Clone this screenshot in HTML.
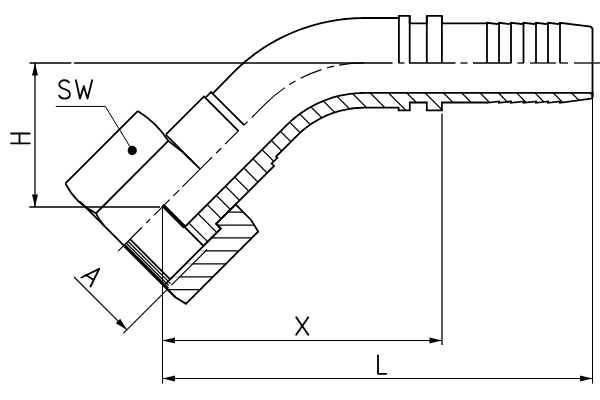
<!DOCTYPE html>
<html><head><meta charset="utf-8"><title>45 degree hose fitting</title>
<style>html,body{margin:0;padding:0;background:#fff;width:600px;height:400px;overflow:hidden;font-family:"Liberation Sans",sans-serif}svg{display:block}</style>
</head><body>
<svg width="600" height="400" viewBox="0 0 600 400">
<rect width="600" height="400" fill="#fff"/>
<defs>
<clipPath id="cA"><path d="M184.70,227.12 L203.50,245.93 L220.83,228.61 L216.09,223.87 L274.07,165.89 L271.67,163.48 L277.33,157.83 L276.09,156.59 L297.12,135.57 L298.90,133.83 L300.73,132.14 L302.61,130.50 L304.52,128.90 L306.48,127.36 L308.47,125.87 L310.51,124.43 L312.58,123.05 L314.68,121.72 L316.82,120.45 L319.00,119.23 L321.20,118.07 L323.44,116.97 L325.70,115.93 L327.99,114.94 L330.30,114.02 L332.64,113.16 L335.00,112.36 L337.38,111.62 L339.77,110.94 L342.19,110.33 L344.62,109.78 L347.06,109.29 L349.52,108.87 L351.98,108.51 L354.45,108.22 L356.93,107.99 L359.42,107.83 L361.91,107.73 L364.40,107.70 L398.60,107.70 L398.60,110.30 L409.80,110.30 L409.80,102.50 L426.80,102.50 L426.80,110.30 L441.90,110.30 L441.90,102.50 L487.00,102.50 L487.00,102.80 L499.00,101.40 L499.00,102.80 L511.00,101.40 L511.00,102.80 L523.50,101.40 L523.50,102.80 L536.00,101.40 L536.00,102.80 L548.00,101.40 L548.00,102.80 L560.00,101.40 L560.00,102.80 L591.00,98.60 L592.50,97.20 L592.50,92.95 L364.40,92.95 L361.52,92.99 L358.65,93.10 L355.78,93.29 L352.91,93.55 L350.06,93.89 L347.21,94.30 L344.37,94.79 L341.55,95.35 L338.74,95.99 L335.96,96.69 L333.19,97.48 L330.44,98.33 L327.71,99.25 L325.02,100.25 L322.34,101.32 L319.70,102.45 L317.09,103.66 L314.51,104.93 L311.96,106.27 L309.45,107.67 L306.98,109.14 L304.54,110.68 L302.15,112.28 L299.80,113.94 L297.50,115.66 L295.24,117.44 L293.03,119.28 L290.86,121.18 L288.75,123.13 L286.69,125.14 L184.70,227.12 Z"/></clipPath>
<clipPath id="cN"><path d="M235.54,204.42 L251.09,219.98 L258.23,231.51 L185.90,303.84 L175.01,297.05 L167.30,289.35 L207.11,249.54 L203.50,245.93 L220.83,228.61 L216.09,223.87 Z"/></clipPath>
<clipPath id="cT"><path d="M163.69,285.74 L203.50,245.93 L207.11,249.54 L167.30,289.35 Z"/></clipPath>
</defs>
<g stroke="#000" fill="none" stroke-linecap="butt" stroke-linejoin="miter">
<path d="M-193.87,-50 L306.13,450 M-175.56,-50 L324.44,450 M-157.25,-50 L342.75,450 M-138.94,-50 L361.06,450 M-120.63,-50 L379.37,450 M-102.32,-50 L397.68,450 M-84.01,-50 L415.99,450 M-65.70,-50 L434.30,450 M-47.39,-50 L452.61,450 M-29.08,-50 L470.92,450 M-10.77,-50 L489.23,450 M7.54,-50 L507.54,450 M25.85,-50 L525.85,450 M44.16,-50 L544.16,450 M62.47,-50 L562.47,450 M80.78,-50 L580.78,450 M99.09,-50 L599.09,450 M117.40,-50 L617.40,450 M135.71,-50 L635.71,450 M154.02,-50 L654.02,450 M172.33,-50 L672.33,450 M190.64,-50 L690.64,450 M208.95,-50 L708.95,450 M227.26,-50 L727.26,450 M245.57,-50 L745.57,450 M263.88,-50 L763.88,450 M282.19,-50 L782.19,450 M300.50,-50 L800.50,450 M318.81,-50 L818.81,450 M337.12,-50 L837.12,450 M355.43,-50 L855.43,450 M373.74,-50 L873.74,450 M392.05,-50 L892.05,450 M410.36,-50 L910.36,450 M428.67,-50 L928.67,450 M446.98,-50 L946.98,450 M465.29,-50 L965.29,450 M483.60,-50 L983.60,450 M501.91,-50 L1001.91,450 M520.22,-50 L1020.22,450 M538.53,-50 L1038.53,450 M556.84,-50 L1056.84,450 M575.15,-50 L1075.15,450 M593.46,-50 L1093.46,450 M611.77,-50 L1111.77,450 M630.08,-50 L1130.08,450 M648.39,-50 L1148.39,450 M666.70,-50 L1166.70,450 M685.01,-50 L1185.01,450 M703.32,-50 L1203.32,450 M721.63,-50 L1221.63,450 M739.94,-50 L1239.94,450" stroke-width="1.25" clip-path="url(#cA)"/>
<path d="M100,173.28 L300,173.28 M100,186.22 L300,186.22 M100,199.16 L300,199.16 M100,212.10 L300,212.10 M100,225.04 L300,225.04 M100,237.98 L300,237.98 M100,250.92 L300,250.92 M100,263.86 L300,263.86 M100,276.80 L300,276.80 M100,289.74 L300,289.74 M100,302.68 L300,302.68 M100,315.62 L300,315.62 M100,328.56 L300,328.56" stroke-width="1.25" clip-path="url(#cN)"/>
<path d="M100,173.28 L300,173.28 M100,186.22 L300,186.22 M100,199.16 L300,199.16 M100,212.10 L300,212.10 M100,225.04 L300,225.04 M100,237.98 L300,237.98 M100,250.92 L300,250.92 M100,263.86 L300,263.86 M100,276.80 L300,276.80 M100,289.74 L300,289.74 M100,302.68 L300,302.68 M100,315.62 L300,315.62 M100,328.56 L300,328.56" stroke-width="1.25" stroke="#bbb" clip-path="url(#cT)"/>
<path d="M184.70,227.12 L203.50,245.93 L220.83,228.61 L216.09,223.87 L274.07,165.89 L271.67,163.48 L277.33,157.83 L276.09,156.59 L297.12,135.57 L298.90,133.83 L300.73,132.14 L302.61,130.50 L304.52,128.90 L306.48,127.36 L308.47,125.87 L310.51,124.43 L312.58,123.05 L314.68,121.72 L316.82,120.45 L319.00,119.23 L321.20,118.07 L323.44,116.97 L325.70,115.93 L327.99,114.94 L330.30,114.02 L332.64,113.16 L335.00,112.36 L337.38,111.62 L339.77,110.94 L342.19,110.33 L344.62,109.78 L347.06,109.29 L349.52,108.87 L351.98,108.51 L354.45,108.22 L356.93,107.99 L359.42,107.83 L361.91,107.73 L364.40,107.70 L398.60,107.70 L398.60,110.30 L409.80,110.30 L409.80,102.50 L426.80,102.50 L426.80,110.30 L441.90,110.30 L441.90,102.50 L487.00,102.50 L487.00,102.80 L499.00,101.40 L499.00,102.80 L511.00,101.40 L511.00,102.80 L523.50,101.40 L523.50,102.80 L536.00,101.40 L536.00,102.80 L548.00,101.40 L548.00,102.80 L560.00,101.40 L560.00,102.80 L591.00,98.60 L592.50,97.20 L592.50,92.95 L364.40,92.95 L361.52,92.99 L358.65,93.10 L355.78,93.29 L352.91,93.55 L350.06,93.89 L347.21,94.30 L344.37,94.79 L341.55,95.35 L338.74,95.99 L335.96,96.69 L333.19,97.48 L330.44,98.33 L327.71,99.25 L325.02,100.25 L322.34,101.32 L319.70,102.45 L317.09,103.66 L314.51,104.93 L311.96,106.27 L309.45,107.67 L306.98,109.14 L304.54,110.68 L302.15,112.28 L299.80,113.94 L297.50,115.66 L295.24,117.44 L293.03,119.28 L290.86,121.18 L288.75,123.13 L286.69,125.14 L184.70,227.12 Z" stroke-width="1.8" fill="none" />
<path d="M235.54,204.42 L251.09,219.98 L258.23,231.51 L185.90,303.84 L175.01,297.05 L163.69,285.74 L220.83,228.61 L216.09,223.87 Z" stroke-width="1.8" fill="none" />
<path d="M212.70,93.62 L233.69,72.14 L237.16,68.76 L240.71,65.48 L244.35,62.29 L248.07,59.19 L251.87,56.20 L255.75,53.30 L259.70,50.51 L263.72,47.82 L267.82,45.24 L271.98,42.77 L276.20,40.40 L280.48,38.15 L284.82,36.01 L289.21,33.98 L293.66,32.07 L298.16,30.28 L302.70,28.60 L307.28,27.05 L311.90,25.61 L316.56,24.30 L321.25,23.11 L325.97,22.04 L330.71,21.10 L335.48,20.28 L340.27,19.58 L345.08,19.01 L349.90,18.57 L354.73,18.25 L359.56,18.06 L364.40,18.00 L398.90,18.00 L398.90,15.90 L409.70,15.90 L409.70,23.40 L426.80,23.40 L426.80,15.90 L441.90,15.90 L441.90,23.30 L487.00,23.30 L487.00,22.80 L499.00,24.20 L499.00,22.80 L511.00,24.20 L511.00,22.80 L523.50,24.20 L523.50,22.80 L536.00,24.20 L536.00,22.80 L548.00,24.20 L548.00,22.80 L560.00,24.20 L560.00,22.80 L590.50,26.60 L592.50,28.50 L592.50,97.20" stroke-width="1.8" fill="none" />
<line x1="398.90" y1="15.90" x2="398.90" y2="62.95" stroke-width="1.8" />
<line x1="409.70" y1="15.90" x2="409.70" y2="62.95" stroke-width="1.8" />
<line x1="426.80" y1="15.90" x2="426.80" y2="62.95" stroke-width="1.8" />
<line x1="441.90" y1="15.90" x2="441.90" y2="62.95" stroke-width="1.8" />
<line x1="487.00" y1="23.30" x2="487.00" y2="62.95" stroke-width="1.8" />
<line x1="499.00" y1="22.80" x2="499.00" y2="62.95" stroke-width="1.8" />
<line x1="511.00" y1="22.80" x2="511.00" y2="62.95" stroke-width="1.8" />
<line x1="523.50" y1="22.80" x2="523.50" y2="62.95" stroke-width="1.8" />
<line x1="536.00" y1="22.80" x2="536.00" y2="62.95" stroke-width="1.8" />
<line x1="548.00" y1="22.80" x2="548.00" y2="62.95" stroke-width="1.8" />
<line x1="560.00" y1="22.80" x2="560.00" y2="62.95" stroke-width="1.8" />
<path d="M212.70,93.62 L211.11,92.03 L205.31,97.83 L203.93,96.45 L165.75,134.63" stroke-width="1.8" fill="none" />
<line x1="211.11" y1="92.03" x2="244.16" y2="125.09" stroke-width="1.8" />
<line x1="203.93" y1="96.45" x2="238.37" y2="130.88" stroke-width="1.8" />
<line x1="165.75" y1="134.63" x2="200.18" y2="169.07" stroke-width="1.8" />
<path d="M137.74,111.02 L65.41,183.35" stroke-width="1.8" fill="none" />
<line x1="168.29" y1="140.86" x2="96.02" y2="213.26" stroke-width="1.8" />
<path d="M137.74,111.02 Q156.34,122.40 168.29,140.86 Q182.72,151.18 194.52,163.41" stroke-width="1.8" fill="none" />
<path d="M65.41,183.35 Q75.73,203.72 96.02,213.26 Q98.64,219.70 104.01,225.64" stroke-width="1.8" fill="none" />
<line x1="79.97" y1="201.60" x2="175.22" y2="296.84" stroke-width="1.8" />
<line x1="162.70" y1="205.13" x2="184.70" y2="227.12" stroke-width="3.6" />
<line x1="130.04" y1="239.21" x2="170.34" y2="279.52" stroke-width="1.8" />
<line x1="128.06" y1="241.19" x2="170.48" y2="283.62" stroke-width="1.3" />
<line x1="126.22" y1="243.03" x2="168.64" y2="285.46" stroke-width="1.3" />
<line x1="124.10" y1="245.15" x2="167.94" y2="288.99" stroke-width="3.2" />
<line x1="171.47" y1="285.18" x2="207.11" y2="249.54" stroke-width="1.2" />
<line x1="29.50" y1="63.00" x2="71.30" y2="63.00" stroke-width="1.3" />
<line x1="73.90" y1="63.00" x2="392.50" y2="63.00" stroke-width="1.3" />
<line x1="398.50" y1="63.00" x2="404.50" y2="63.00" stroke-width="1.3" />
<line x1="409.00" y1="63.00" x2="455.50" y2="63.00" stroke-width="1.3" />
<line x1="460.50" y1="63.00" x2="467.50" y2="63.00" stroke-width="1.3" />
<line x1="473.00" y1="63.00" x2="511.50" y2="63.00" stroke-width="1.3" />
<line x1="517.50" y1="63.00" x2="524.00" y2="63.00" stroke-width="1.3" />
<line x1="530.00" y1="63.00" x2="556.00" y2="63.00" stroke-width="1.3" />
<line x1="559.70" y1="63.00" x2="568.00" y2="63.00" stroke-width="1.3" />
<line x1="574.00" y1="63.00" x2="600.00" y2="63.00" stroke-width="1.3" />
<path d="M364.40,62.85 A140.0,140.0 0 0 0 265.41,103.86 L118.16,251.09" stroke-width="1.2" fill="none" stroke-dasharray="25.60 4.90 7.40 5.70 22.80 5.60 7.30 5.20 44.69 5.90 4.90 7.80 19.10 5.70 7.10 5.60 42.10 4.40 8.30 5.30 22.10 5.40 5.60 5.90 33.80 50.00"/>
<line x1="35.00" y1="63.00" x2="35.00" y2="207.00" stroke-width="1.3" />
<path d="M35.00,63.10 L38.00,75.60 L32.00,75.60 Z" fill="#000" stroke="none"/>
<path d="M35.00,207.00 L32.00,194.50 L38.00,194.50 Z" fill="#000" stroke="none"/>
<line x1="29.25" y1="207.00" x2="160.00" y2="207.00" stroke-width="1.3" />
<line x1="162.50" y1="208.00" x2="162.50" y2="383.50" stroke-width="1.0" />
<line x1="442.00" y1="113.40" x2="442.00" y2="345.00" stroke-width="1.3" />
<line x1="592.50" y1="97.20" x2="592.50" y2="383.50" stroke-width="1.0" />
<line x1="162.50" y1="340.50" x2="442.00" y2="340.50" stroke-width="1.0" />
<path d="M162.50,340.50 L175.00,337.50 L175.00,343.50 Z" fill="#000" stroke="none"/>
<path d="M442.00,340.50 L429.50,343.50 L429.50,337.50 Z" fill="#000" stroke="none"/>
<line x1="162.50" y1="378.50" x2="592.50" y2="378.50" stroke-width="1.0" />
<path d="M162.50,378.50 L175.00,375.50 L175.00,381.50 Z" fill="#000" stroke="none"/>
<path d="M592.50,378.50 L580.00,381.50 L580.00,375.50 Z" fill="#000" stroke="none"/>
<line x1="74.03" y1="276.97" x2="126.85" y2="329.79" stroke-width="1.15" />
<path d="M126.85,329.79 L115.82,323.15 L120.21,318.76 Z" fill="#000" stroke="none"/>
<line x1="123.32" y1="333.33" x2="167.30" y2="289.35" stroke-width="1.15" />
<path d="M55.75,106.40 L105.30,106.40 L132.25,150.40" stroke-width="1.0" fill="none" />
<circle cx="132.25" cy="150.4" r="4.6" fill="#000" stroke="none"/>
<path d="M69.0,82.2 C68.0,80.8 66.4,80.2 64.4,80.2 C61.4,80.2 59.3,82.0 59.3,84.6 C59.3,87.4 61.8,88.4 64.6,89.2 C67.6,90.0 69.9,91.2 69.9,94.2 C69.9,97.0 67.6,98.6 64.4,98.6 C61.8,98.6 60.0,97.4 59.2,95.6" stroke-width="1.85" fill="none" stroke-linecap="round" stroke-linejoin="round"/>
<path d="M75.90,80.20 L80.00,98.60 L83.80,86.20 L87.50,98.60 L92.20,80.20" stroke-width="1.85" fill="none" stroke-linecap="round" stroke-linejoin="round"/>
<line x1="11.10" y1="133.50" x2="29.70" y2="133.50" stroke-width="1.85" stroke-linecap="round"/>
<line x1="11.10" y1="143.40" x2="29.70" y2="143.40" stroke-width="1.85" stroke-linecap="round"/>
<line x1="19.50" y1="133.50" x2="19.50" y2="143.40" stroke-width="1.85" stroke-linecap="round"/>
<line x1="296.20" y1="317.30" x2="308.30" y2="334.70" stroke-width="1.85" stroke-linecap="round"/>
<line x1="308.30" y1="317.30" x2="296.20" y2="334.70" stroke-width="1.85" stroke-linecap="round"/>
<path d="M378.00,355.30 L378.00,373.80 L386.30,373.80" stroke-width="1.85" fill="none" stroke-linecap="round" stroke-linejoin="round"/>
<path d="M81.50,277.50 L99.20,268.80 L90.50,286.50" stroke-width="1.85" fill="none" stroke-linecap="round" stroke-linejoin="round"/>
<line x1="86.00" y1="275.00" x2="93.00" y2="279.50" stroke-width="1.85" stroke-linecap="round"/>
</g>
</svg>
</body></html>
